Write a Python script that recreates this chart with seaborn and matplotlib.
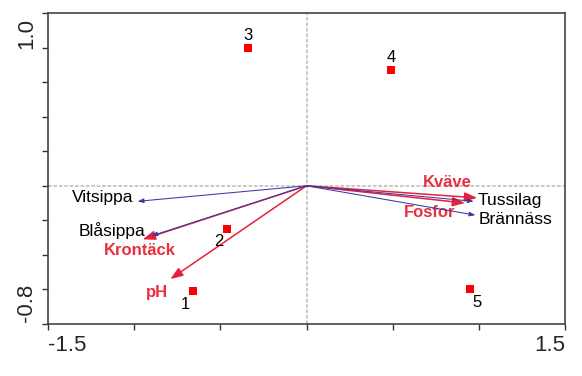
import matplotlib

matplotlib.use("Agg")

import matplotlib.pyplot as plt
import pandas as pd
import seaborn as sns

# sample scores (red squares)
sample_ids = ["1", "2", "3", "4", "5"]
sample_x = [-0.66, -0.46, -0.34, 0.49, 0.95]
sample_y = [-0.61, -0.25, 0.80, 0.67, -0.60]

# species arrows
species_names = ["Vitsippa", "Blåsippa", "Tussilag", "Brännäss"]
species_x = [-0.98, -0.90, 0.97, 0.98]
species_y = [-0.09, -0.29, -0.09, -0.17]

# environmental variable arrows
env_names = ["Krontäck", "pH", "Kväve", "Fosfor"]
env_x = [-0.95, -0.79, 0.99, 0.92]
env_y = [-0.31, -0.54, -0.07, -0.10]

x_ticks = [-1.5, -1.0, -0.5, 0.0, 0.5, 1.0, 1.5]
y_ticks = [-0.8, -0.6, -0.4, -0.2, 0.0, 0.2, 0.4, 0.6, 0.8, 1.0]
x_limits = (-1.5, 1.5)
y_limits = (-0.8, 1.0)

RED = "#e8203c"
LABEL_RED = "#e8303f"
BLUE = "#3a3aa6"

# label placement: (ha, va, dx px, dy px) relative to the point / arrow tip
sample_offsets = {
    "1": ("center", "center", -7, -13),
    "2": ("center", "center", -8, -13),
    "3": ("center", "center", 0, 12),
    "4": ("center", "center", 0, 13),
    "5": ("center", "center", 7, -13),
}
species_offsets = {
    "Vitsippa": ("right", "center", -4, 4),
    "Blåsippa": ("right", "center", -6, 5),
    "Tussilag": ("left", "center", 4, 1),
    "Brännäss": ("left", "center", 3, -4),
}
env_offsets = {
    "Krontäck": ("center", "center", -3, -11),
    "pH": ("center", "center", -13, -13),
    "Kväve": ("center", "center", -30, 15),
    "Fosfor": ("center", "center", -35, -9),
}

sns.set_style("white")
plt.rcParams["font.family"] = ["Liberation Sans", "DejaVu Sans"]

fig = plt.figure(figsize=(5.82, 3.76), dpi=100)
ax = fig.add_axes([48 / 582, 52 / 376, 517 / 582, 311 / 376])

ax.axhline(0, color="#c4c4c4", lw=1.3, ls=(0, (2, 1)), zorder=0)
ax.axvline(0, color="#c4c4c4", lw=1.3, ls=(0, (2, 1)), zorder=0)

for name, x, y in zip(env_names, env_x, env_y):
    ax.annotate(
        "", xy=(x, y), xytext=(0, 0),
        arrowprops=dict(
            arrowstyle="-|>,head_length=0.75,head_width=0.28",
            color=RED, lw=1.1, shrinkA=0, shrinkB=0, mutation_scale=10,
        ),
        zorder=2,
    )
    ha, va, dx, dy = env_offsets[name]
    ax.annotate(
        name, xy=(x, y), xytext=(dx, dy), textcoords="offset pixels",
        ha=ha, va=va, color=LABEL_RED, fontsize=12, fontweight="bold",
    )

for name, x, y in zip(species_names, species_x, species_y):
    ax.annotate(
        "", xy=(x, y), xytext=(0, 0),
        arrowprops=dict(
            arrowstyle="-|>,head_length=0.35,head_width=0.13",
            color=BLUE, lw=0.75, shrinkA=0, shrinkB=0, mutation_scale=10,
        ),
        zorder=3,
    )
    ha, va, dx, dy = species_offsets[name]
    ax.annotate(
        name, xy=(x, y), xytext=(dx, dy), textcoords="offset pixels",
        ha=ha, va=va, color="black", fontsize=12.5,
    )

samples = pd.DataFrame({"id": sample_ids, "x": sample_x, "y": sample_y})
sns.scatterplot(
    data=samples, x="x", y="y", marker="s", color="#ff0000",
    s=30, linewidth=0, ax=ax, zorder=4,
)
for sid, x, y in zip(sample_ids, sample_x, sample_y):
    ha, va, dx, dy = sample_offsets[sid]
    ax.annotate(
        sid, xy=(x, y), xytext=(dx, dy), textcoords="offset pixels",
        ha=ha, va=va, color="black", fontsize=12,
    )

ax.set_xlim(*x_limits)
ax.set_ylim(*y_limits)
ax.set_xticks(x_ticks)
ax.set_yticks(y_ticks)
ax.set_xticklabels([])
ax.set_yticklabels([])
ax.set_xlabel("")
ax.set_ylabel("")
ax.tick_params(direction="out", length=4, width=1, color="#333333",
               bottom=True, left=True)
for spine in ax.spines.values():
    spine.set_color("#444444")
    spine.set_linewidth(1.2)

# end labels like CANOCO: only the axis limits are written
ax.annotate(f"{x_limits[0]:.1f}", xy=(x_limits[0], 0), xycoords=("data", "axes fraction"),
            xytext=(0, -11), textcoords="offset pixels", ha="left", va="top", fontsize=16)
ax.annotate(f"{x_limits[1]:.1f}", xy=(x_limits[1], 0), xycoords=("data", "axes fraction"),
            xytext=(0, -11), textcoords="offset pixels", ha="right", va="top", fontsize=16)
ax.annotate(f"{y_limits[1]:.1f}", xy=(0, y_limits[1]), xycoords=("axes fraction", "data"),
            xytext=(-11, -5), textcoords="offset pixels", ha="right", va="top",
            rotation=90, fontsize=16)
ax.annotate(f"{y_limits[0]:.1f}", xy=(0, y_limits[0]), xycoords=("axes fraction", "data"),
            xytext=(-11, 2), textcoords="offset pixels", ha="right", va="bottom",
            rotation=90, fontsize=16)

fig.savefig("out.png", dpi=100)
